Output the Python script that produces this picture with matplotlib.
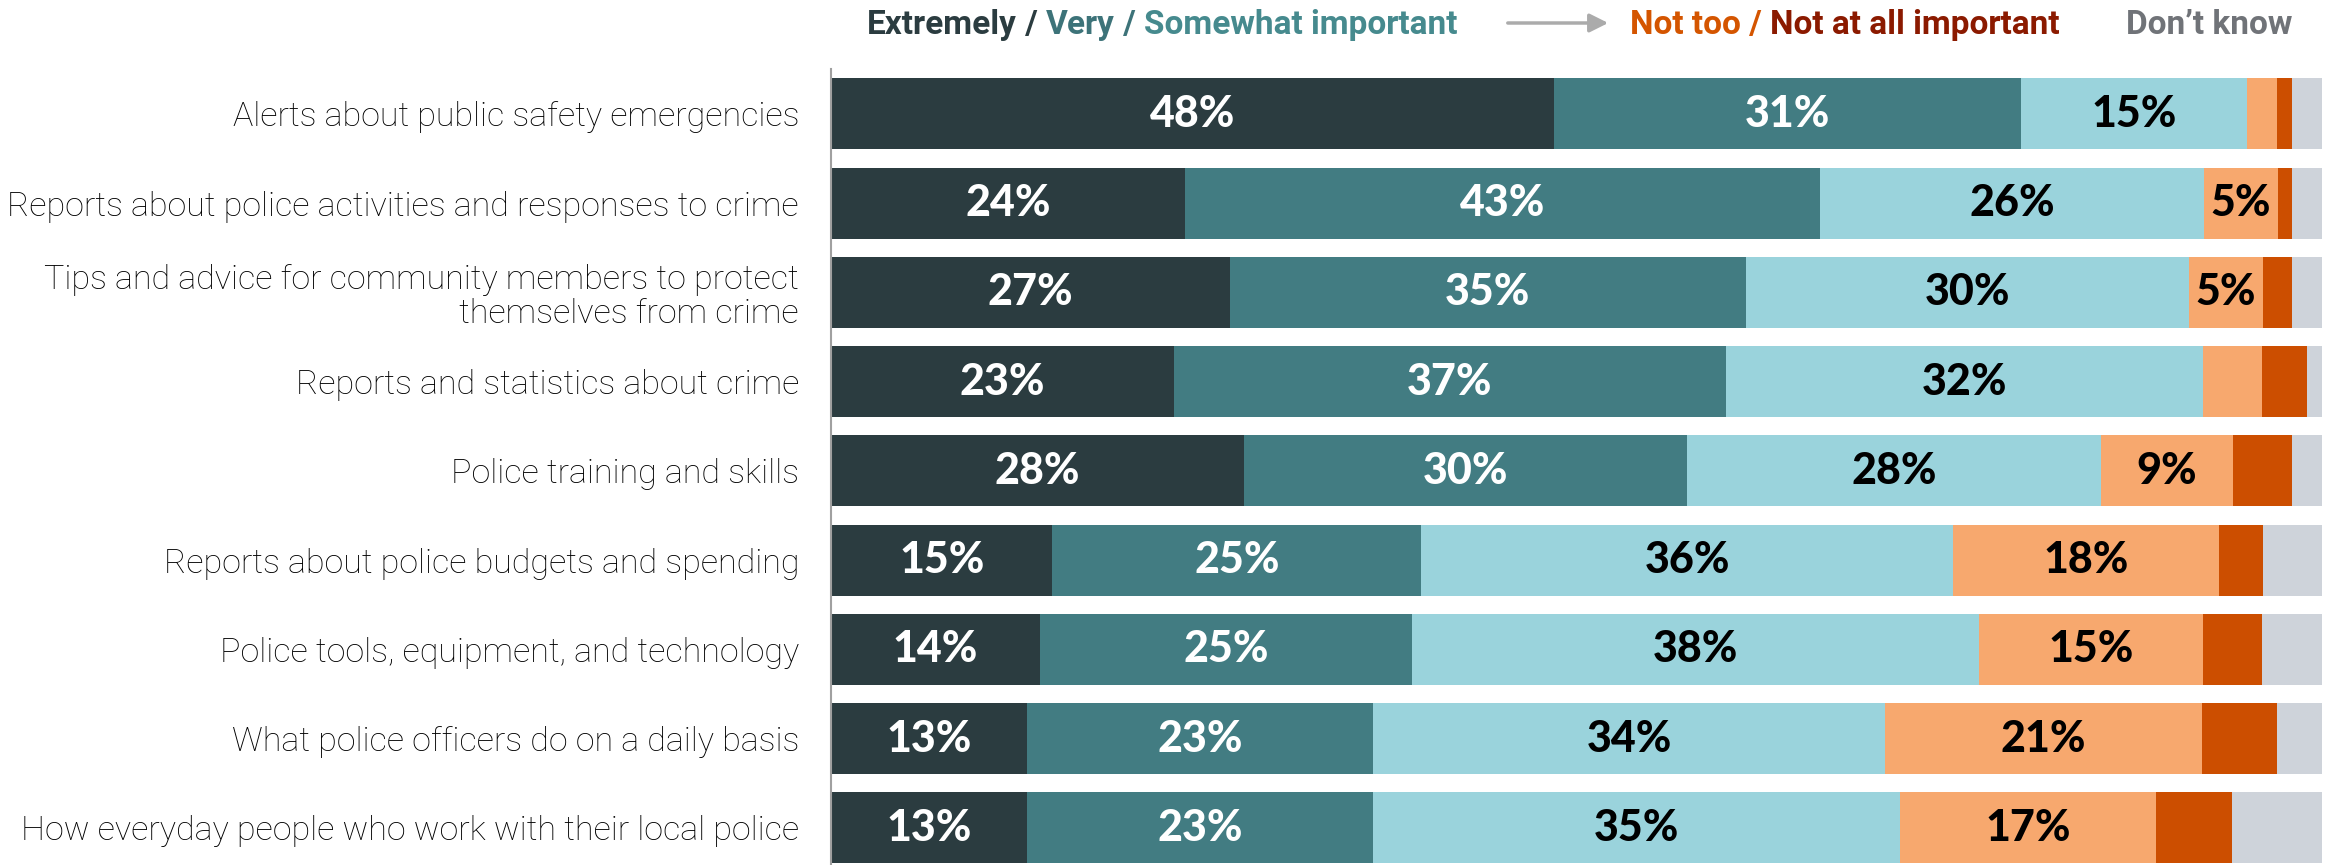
import matplotlib.pyplot as plt
import numpy as np

# survey results, percent (as printed); rows are normalised to 100 when drawn
categories = [
    "Alerts about public safety emergencies",
    "Reports about police activities and responses to crime",
    "Tips and advice for community members to protect\nthemselves from crime",
    "Reports and statistics about crime",
    "Police training and skills",
    "Reports about police budgets and spending",
    "Police tools, equipment, and technology",
    "What police officers do on a daily basis",
    "How everyday people who work with their local police",
]
extremely = [48, 24, 27, 23, 28, 15, 14, 13, 13]
very = [31, 43, 35, 37, 30, 25, 25, 23, 23]
somewhat = [15, 26, 30, 32, 28, 36, 38, 34, 35]
not_too = [2, 5, 5, 4, 9, 18, 15, 21, 17]
not_at_all = [1, 1, 2, 3, 4, 3, 4, 5, 5]
dont_know = [2, 2, 2, 1, 2, 4, 4, 3, 6]

series = [extremely, very, somewhat, not_too, not_at_all, dont_know]
colors = ["#2B3C40", "#427C82", "#9AD3DC", "#F7A86E", "#CC4E00", "#CED3DA"]
text_colors = ["white", "white", "black", "black", None, None]

W, H = 2328, 865
fig = plt.figure(figsize=(W / 100, H / 100), dpi=100)
ax = fig.add_axes([831 / W, 0, (2322 - 831) / W, (865 - 69) / H])

vals = np.array(series, dtype=float)
totals = vals.sum(axis=0)
scaled = vals / totals * 100
y = np.arange(len(categories))

left = np.zeros(len(categories))
for k in range(len(series)):
    ax.barh(y, scaled[k], left=left, height=0.796, color=colors[k], edgecolor="none")
    if text_colors[k] is not None:
        for i in range(len(categories)):
            if series[k][i] >= 5:
                ax.text(left[i] + scaled[k][i] / 2, y[i], f"{series[k][i]}%",
                        ha="center", va="center", fontsize=31, fontweight="black",
                        family="Lato", color=text_colors[k])
    left += scaled[k]

ax.set_xlim(0, 100)
ax.set_ylim(8.417, -0.502)
ax.set_xticks([])
ax.set_yticks(y, categories)
ax.tick_params(axis="y", length=0, pad=23)
for lab in ax.get_yticklabels():
    lab.set_fontfamily("Roboto")
    lab.set_fontweight("light")
    lab.set_fontsize(24.5)
    lab.set_color("black")
    lab.set_linespacing(1.1)
for s in ["top", "right", "bottom"]:
    ax.spines[s].set_visible(False)
ax.spines["left"].set_color("#A0A0A0")
ax.spines["left"].set_linewidth(1.5)

# header legend, coloured word by word
renderer = fig.canvas.get_renderer()
base_y = 1 - 34 / H


def draw_pieces(x_px, pieces):
    x = x_px
    for txt, col in pieces:
        t = fig.text(x / W, base_y, txt, color=col, fontsize=24, fontweight="bold",
                     family="Roboto", ha="left", va="baseline")
        x += t.get_window_extent(renderer).width
    return x


draw_pieces(867, [("Extremely", "#2B3C40"), (" / ", "#2B3C40"), ("Very", "#3D7379"),
                  (" / ", "#3D7379"), ("Somewhat important", "#468A8E")])
draw_pieces(1630, [("Not too", "#D45500"), (" / ", "#D45500"),
                   ("Not at all important", "#8B1A00")])
draw_pieces(2126, [("Don\u2019t know", "#707378")])

ax.annotate("", xy=(1611, H - 23), xytext=(1505, H - 23), xycoords="figure pixels",
            textcoords="figure pixels",
            arrowprops=dict(arrowstyle="-|>", color="#ABABAB", lw=2.5, mutation_scale=28))

fig.savefig("out.png", dpi=100)
